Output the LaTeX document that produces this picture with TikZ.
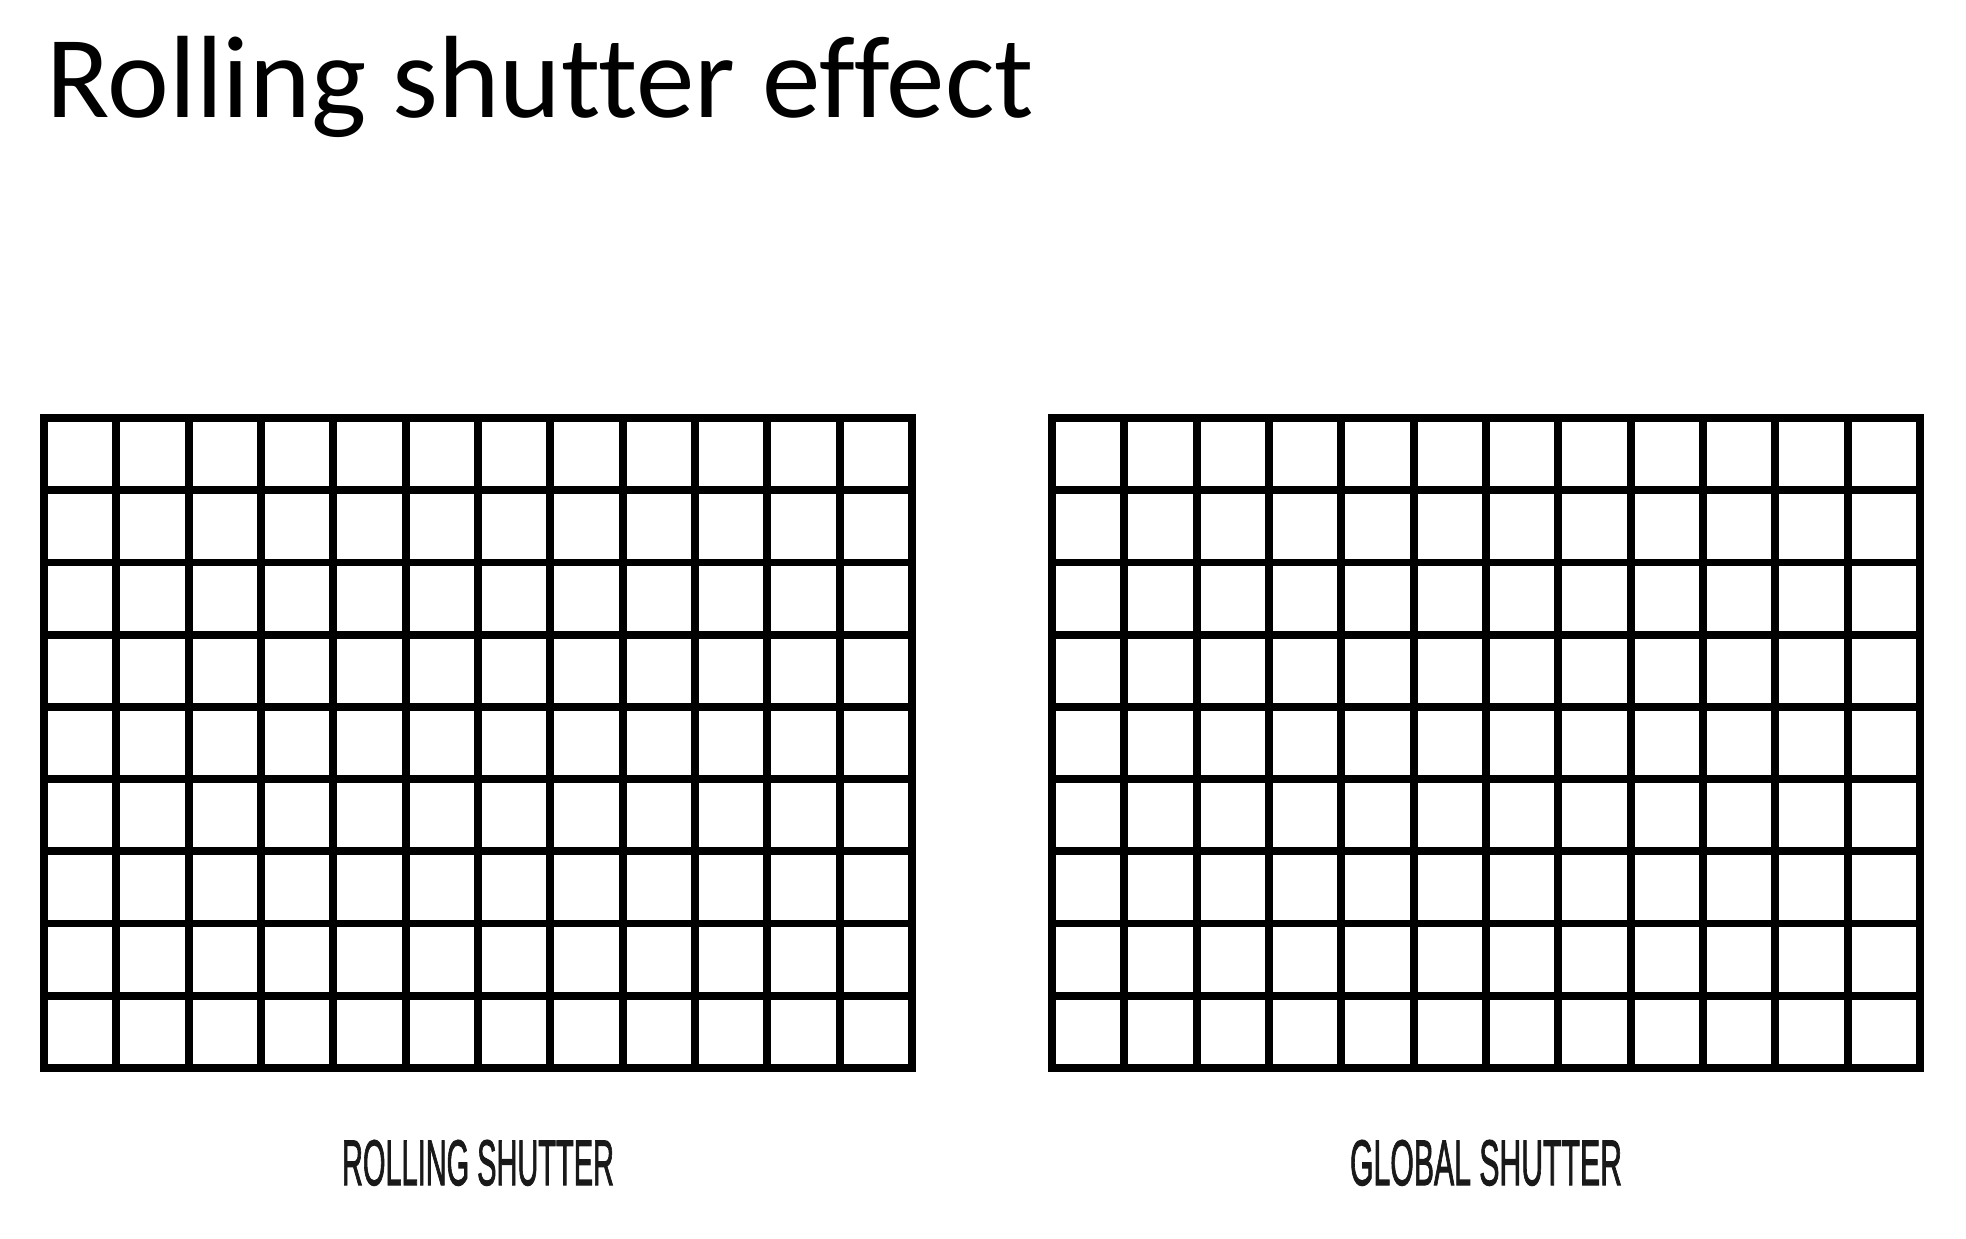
\documentclass[tikz,border=0pt]{standalone}
\usepackage{fontspec}
\usepackage{graphicx}
\newfontfamily\titlefont[Ligatures=NoCommon]{Carlito}
\newfontfamily\capfont[FakeBold=2]{Liberation Sans}
\newcommand{\shutterlabel}[1]{\resizebox{5.44cm}{0.9cm}{\capfont #1}}

\begin{document}
\begin{tikzpicture}[x=0.02cm,y=-0.02cm]

	\tikzstyle grid lines=[line width=0.155cm,black];
	\tikzstyle grid frame=[line width=0.155cm,black,line join=miter];
	\tikzstyle caption=[inner sep=0pt,anchor=south,text=black!90];

	\useasboundingbox (0,0) rectangle (1966,1238);

	\node[inner sep=0pt,anchor=base west,font=\titlefont\fontsize{66.6}{80}\selectfont] (title) at (46,117) {Rolling shutter effect};

	% the two sensors, 12 x 9 pixels each
	\foreach \x/\name in {44/rolling,1052/global}
	{
		\draw[grid frame] (\x,418) rectangle ({\x+868},1068);
		\foreach \i in {1,...,11}
			\draw[grid lines] ({\x+\i*72.33},418) -- ({\x+\i*72.33},1068);
		\foreach \j in {1,...,8}
			\draw[grid lines] (\x,{418+\j*72.22}) -- ({\x+868},{418+\j*72.22});
		\coordinate (\name) at ({\x+434},1186);
	}

	\node[caption] (rolling label) at (rolling) {\shutterlabel{ROLLING SHUTTER}};
	\node[caption] (global label) at (global) {\shutterlabel{GLOBAL SHUTTER}};

\end{tikzpicture}
\end{document}
